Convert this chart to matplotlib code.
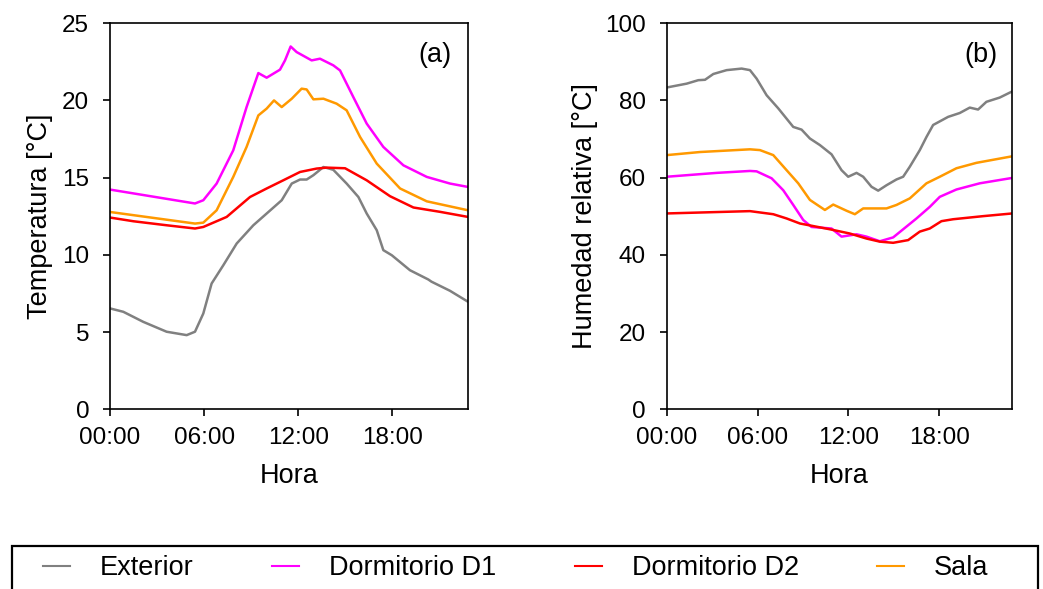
import matplotlib
matplotlib.use("Agg")
import matplotlib.pyplot as plt
from matplotlib.lines import Line2D
from matplotlib.patches import Rectangle

plt.rcParams['font.family'] = ['Liberation Sans', 'DejaVu Sans']

# ---------------- data: (a) Temperatura ----------------
ext_t_h = [0, 0.85, 2.12, 3.61, 4.89, 5.42, 5.95, 6.48, 7.23, 8.08, 9.14, 9.99, 10.95, 11.59, 12.12,
           12.54, 12.97, 13.61, 14.24, 15.09, 15.84, 16.37, 17.01, 17.43, 17.97, 19.13, 20.3, 20.5,
           21.68, 22.83]
ext_t = [6.53, 6.31, 5.66, 5.02, 4.80, 5.02, 6.2, 8.14, 9.33, 10.73, 11.91, 12.67, 13.53, 14.61, 14.87,
         14.87, 15.15, 15.68, 15.5, 14.61, 13.74, 12.67, 11.59, 10.30, 9.97, 9.0, 8.4, 8.26,
         7.67, 6.96]

d1_t_h = [0, 5.42, 5.95, 6.8, 7.86, 8.71, 9.46, 9.99, 10.84, 11.16, 11.52, 11.9, 12.86, 13.39, 14.24,
          14.67, 15.52, 16.37, 17.43, 18.71, 20.2, 21.68, 22.83]
d1_t = [14.22, 13.32, 13.53, 14.61, 16.76, 19.56, 21.76, 21.46, 21.98, 22.58, 23.48, 23.12, 22.58,
        22.69, 22.26, 21.93, 20.2, 18.49, 16.98, 15.79, 15.04, 14.61, 14.39]

d2_t_h = [0, 1.49, 3.61, 5.42, 5.95, 7.44, 8.93, 9.99, 11.05, 12.12, 13.18, 13.82, 14.99, 16.37,
          17.86, 19.35, 21.04, 22.83]
d2_t = [12.41, 12.17, 11.91, 11.7, 11.8, 12.45, 13.74, 14.29, 14.82, 15.36, 15.58, 15.64, 15.6,
        14.82, 13.79, 13.06, 12.78, 12.45]

sala_t_h = [0, 5.42, 5.95, 6.8, 7.86, 8.71, 9.46, 9.99, 10.46, 10.95, 11.59, 12.22, 12.54, 12.97,
            13.61, 14.45, 15.09, 15.95, 17.01, 18.5, 20.2, 22.83]
sala_t = [12.77, 12.02, 12.08, 12.88, 15.04, 16.98, 19.02, 19.46, 19.99, 19.56, 20.1, 20.75, 20.7,
          20.06, 20.1, 19.78, 19.35, 17.62, 15.9, 14.29, 13.46, 12.88]

# ---------------- data: (b) Humedad relativa ----------------
ext_h_h = [0, 1.32, 2.09, 2.53, 3.08, 3.96, 4.95, 5.5, 5.94, 6.6, 7.37, 8.36, 8.91, 9.46, 10.12,
           10.89, 11.55, 11.99, 12.54, 12.98, 13.53, 13.97, 14.52, 15.18, 15.62, 16.06, 16.72,
           17.16, 17.6, 18.59, 19.36, 20.02, 20.57, 21.12, 22.0, 22.83]
ext_h = [83.3, 84.3, 85.2, 85.3, 86.8, 87.8, 88.2, 87.8, 85.6, 81.3, 77.9, 73.1, 72.4, 70.1, 68.4,
         66.0, 61.9, 60.2, 61.2, 60.2, 57.6, 56.6, 58.0, 59.5, 60.2, 62.8, 67.1,
         70.5, 73.6, 75.7, 76.7, 78.1, 77.6, 79.6, 80.7, 82.3]

d1_h_h = [0, 3.3, 5.5, 5.94, 6.93, 7.7, 8.36, 9.02, 9.57, 10.89, 11.55, 12.54, 13.2, 14.08, 14.96,
          15.62, 16.5, 17.38, 18.04, 19.14, 20.68, 22.83]
d1_h = [60.2, 61.2, 61.7, 61.6, 59.8, 56.7, 52.9, 49.0, 47.2, 46.8, 44.7, 45.3, 44.7, 43.5, 44.5,
        46.6, 49.4, 52.4, 55.0, 56.9, 58.5, 59.9]

d2_h_h = [0, 5.5, 7.04, 7.92, 8.8, 10.78, 12.1, 13.2, 14.08, 14.96, 15.95, 16.72, 17.38, 18.15,
          18.92, 20.9, 22.83]
d2_h = [50.7, 51.3, 50.5, 49.4, 48.1, 46.6, 45.5, 44.2, 43.4, 43.1, 43.8, 46.0, 46.8, 48.7,
        49.2, 50.0, 50.7]

sala_h_h = [0, 2.2, 5.5, 6.16, 7.04, 7.92, 8.69, 9.46, 10.45, 11.0, 11.88, 12.43, 12.98, 14.52,
            15.18, 16.06, 17.16, 18.04, 19.14, 20.46, 22.83]
sala_h = [65.8, 66.6, 67.3, 67.1, 65.8, 61.9, 58.5, 54.2, 51.6, 53.0, 51.4, 50.5, 52.0, 52.0,
          52.9, 54.6, 58.5, 60.2, 62.4, 63.8, 65.5]

x_ticks = [0, 6, 12, 18]
x_tick_labels = ["00:00", "06:00", "12:00", "18:00"]
series_names = ["Exterior", "Dormitorio D1", "Dormitorio D2", "Sala"]
series_colors = ["#808080", "#FF00FF", "#FF0000", "#FF9900"]

W, H = 1043, 589
fig = plt.figure(figsize=(W / 100, H / 100), dpi=100)
ax1 = fig.add_axes([110 / W, (H - 409.3) / H, 358 / W, 386.3 / H])
ax2 = fig.add_axes([666.7 / W, (H - 409.3) / H, 345.6 / W, 386.3 / H])

temp = [(ext_t_h, ext_t), (d1_t_h, d1_t), (d2_t_h, d2_t), (sala_t_h, sala_t)]
hum = [(ext_h_h, ext_h), (d1_h_h, d1_h), (d2_h_h, d2_h), (sala_h_h, sala_h)]

TICK_FS = 17.5
LABEL_FS = 19.5

for ax, data in ((ax1, temp), (ax2, hum)):
    for (xh, yv), c in zip(data, series_colors):
        ax.plot(xh, yv, color=c, lw=1.8, solid_joinstyle='round', solid_capstyle='round')
    ax.set_xlim(0, 22.83)
    ax.set_xticks(x_ticks)
    ax.set_xticklabels(x_tick_labels)
    ax.tick_params(direction='out', length=5, width=1.2, labelsize=TICK_FS)
    ax.tick_params(axis='x', pad=8)
    ax.tick_params(axis='y', pad=10)
    for s in ax.spines.values():
        s.set_linewidth(1.2)
        s.set_color('black')
    ax.set_xlabel("Hora", fontsize=LABEL_FS)
    ax.xaxis.set_label_coords(0.5, -(476 - 409.3) / 386.3)
    ax.xaxis.label.set_va('center')

ax1.set_ylim(0, 25)
ax1.set_yticks([0, 5, 10, 15, 20, 25])
ax1.set_ylabel("Temperatura [°C]", fontsize=LABEL_FS, va='center')
ax1.yaxis.set_label_coords((40 - 110) / 358, 0.5)
ax2.set_ylim(0, 100)
ax2.set_yticks([0, 20, 40, 60, 80, 100])
ax2.set_ylabel("Humedad relativa [°C]", fontsize=LABEL_FS, va='center')
ax2.yaxis.set_label_coords((585 - 666.7) / 345.6, 0.5)

ax1.text((435 - 110) / 358, (409.3 - 55) / 386.3, "(a)", transform=ax1.transAxes,
         fontsize=LABEL_FS, ha='center', va='center')
ax2.text((981 - 666.7) / 345.6, (409.3 - 55) / 386.3, "(b)", transform=ax2.transAxes,
         fontsize=LABEL_FS, ha='center', va='center')

# legend frame (extends below the figure edge, as in the reference)
fig.patches.append(Rectangle((12 / W, -10 / H), 1026 / W, (H - 546 + 10) / H,
                             transform=fig.transFigure, fill=False, edgecolor='black',
                             linewidth=1.6, zorder=5))

handles = [Line2D([], [], color=c, lw=1.5) for c in series_colors]
leg = fig.legend(handles, series_names, loc='center left', ncol=4,
                 bbox_to_anchor=(43 / W, (H - 568) / H),
                 fontsize=LABEL_FS, handlelength=1.0, handletextpad=1.1, columnspacing=2.9,
                 frameon=False, borderpad=0, borderaxespad=0)

fig.savefig("out.png", dpi=100)
